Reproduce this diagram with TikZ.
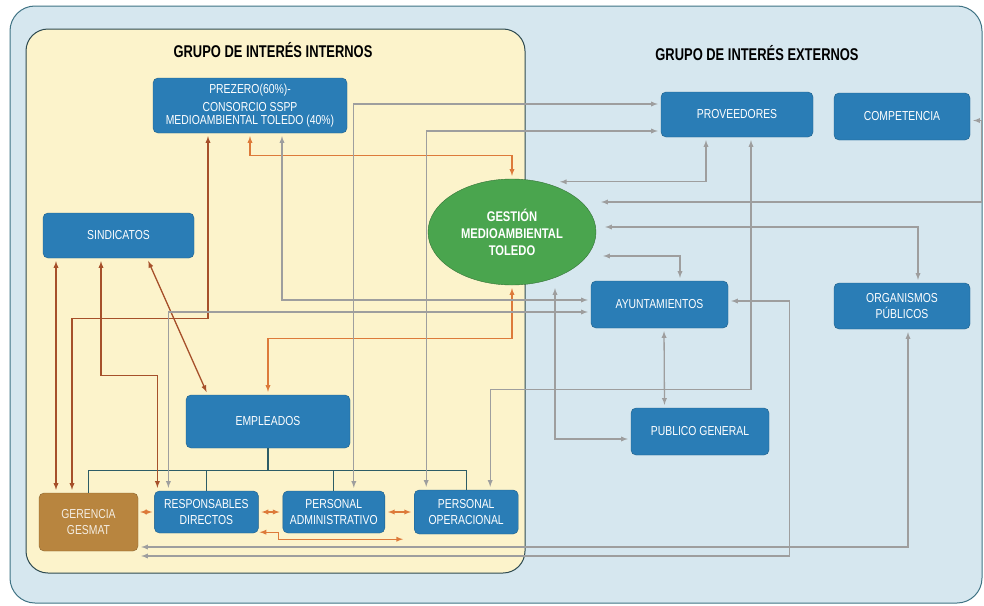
\documentclass[tikz,border=0pt]{standalone}
\usepackage{fontspec}
\usepackage{tikz}
\usetikzlibrary{positioning,calc,shapes.geometric}
\newfontfamily\condfont[FakeStretch=0.8]{Liberation Sans}
\newfontfamily\titlefont[FakeStretch=0.76]{Liberation Sans}
\definecolor{outerblue}{HTML}{D6E7EF}
\definecolor{outeredge}{HTML}{3F7384}
\definecolor{inneryellow}{HTML}{FCF3CB}
\definecolor{inneredge}{HTML}{2E4A50}
\definecolor{boxblue}{HTML}{2A7DB6}
\definecolor{boxedge}{HTML}{1D5E88}
\definecolor{ochre}{HTML}{B8853F}
\definecolor{gestgreen}{HTML}{4AA54E}
\definecolor{linegray}{HTML}{9E9E9E}
\definecolor{lineorange}{HTML}{DD7A3A}
\definecolor{linebrown}{HTML}{A6502A}
\definecolor{treeteal}{HTML}{2D5C66}

\begin{document}
\begin{tikzpicture}[x=1pt,y=-1pt]
\tikzstyle{box}=[rectangle, rounded corners=5pt, fill=boxblue, draw=boxedge, text=white, align=center, inner sep=2pt, font=\condfont\fontsize{13}{15.5}\selectfont]
\tikzstyle{title}=[font=\titlefont\bfseries\fontsize{17}{19}\selectfont, text=black]
\tikzstyle{gline}=[latex-latex, line width=1.3pt, draw=linegray, shorten >=3pt, shorten <=3pt]
\tikzstyle{oline}=[latex-latex, line width=1.3pt, draw=lineorange, shorten >=3pt, shorten <=3pt]
\tikzstyle{bline}=[latex-latex, line width=1.3pt, draw=linebrown, shorten >=3pt, shorten <=3pt]
\tikzstyle{tree}=[line width=1.3pt, draw=treeteal]

\useasboundingbox (0,0) rectangle (984,605);

%% Frames
  \draw[rounded corners=25pt, fill=outerblue, draw=outeredge, line width=1pt] (10,6) rectangle (982,603);
  \draw[rounded corners=22pt, fill=inneryellow, draw=inneredge, line width=1pt] (26,29) rectangle (525,573);
  \node[title] (t_int) at (273,50) {GRUPO DE INTERÉS INTERNOS};
  \node[title] (t_ext) at (757,53) {GRUPO DE INTERÉS EXTERNOS};

%% Internos
  \node[box, minimum width=194pt, minimum height=55pt] (prezero) at (250,105.5) {PREZERO(60\%)-\\[3pt]CONSORCIO SSPP\\[-3pt]MEDIOAMBIENTAL TOLEDO (40\%)};
  \node[box, minimum width=151pt, minimum height=45pt] (sind) at (118.5,235.5) {SINDICATOS};
  \node[ellipse, fill=gestgreen, draw=gestgreen!70!black, text=white, align=center, minimum width=168pt, minimum height=106pt, inner sep=0pt, font=\condfont\bfseries\fontsize{14}{17}\selectfont] (gestion) at (512,232) {GESTIÓN\\MEDIOAMBIENTAL\\TOLEDO};
  \node[box, minimum width=164pt, minimum height=53pt] (empl) at (268,421.5) {EMPLEADOS};

%% Fila inferior
  \node[box, fill=ochre, draw=ochre!75!black, text=white!85!ochre, minimum width=99pt, minimum height=58pt] (gerencia) at (88.5,522) {GERENCIA\\GESMAT};
  \node[box, minimum width=104pt, minimum height=42pt] (resp) [right=16pt of gerencia, yshift=10pt] {RESPONSABLES\\DIRECTOS};
  \node[box, minimum width=102pt, minimum height=42pt] (admin) [right=24pt of resp] {PERSONAL\\ADMINISTRATIVO};
  \node[box, minimum width=104pt, minimum height=44pt] (oper) [right=29pt of admin] {PERSONAL\\OPERACIONAL};

%% Externos
  \node[box, minimum width=152pt, minimum height=45pt] (prov) at (737,114.5) {PROVEEDORES};
  \node[box, minimum width=136pt, minimum height=47pt] (comp) at (902,116.5) {COMPETENCIA};
  \node[box, minimum width=137pt, minimum height=47pt] (ayunt) at (659.5,304.5) {AYUNTAMIENTOS};
  \node[box, minimum width=136pt, minimum height=46pt] (org) at (902,306) {ORGANISMOS\\PÚBLICOS};
  \node[box, minimum width=138pt, minimum height=47pt] (pub) at (700,431.5) {PUBLICO GENERAL};

%% Organigrama
  \path (empl.south) ++(0,22) coordinate (bus);
  \draw[tree] (empl.south) -- (bus);
  \draw[tree] (gerencia.north) |- (bus) -| (oper.north);
  \draw[tree] (resp.north) |- (bus) -| (admin.north);

%% Relaciones internas
  \draw[oline] (prezero.south) -- ++(0,22) -| (gestion.north);
  \draw[bline] ($(prezero.south)+(-42,0)$) -- ++(0,185) -| ($(gerencia.north)+(-16.5,0)$);
  \draw[bline] ($(sind.south)+(-62.5,0)$) -- ($(gerencia.north)+(-32.5,0)$);
  \draw[bline] ($(sind.south)+(-17.5,0)$) -- ++(0,117) -| ($(resp.north)+(-49,0)$);
  \draw[bline] ($(sind.south)+(28.5,0)$) -- ($(empl.north west)+(22,0)$);
  \draw[oline] (gestion.south) -- ++(0,53) -| (empl.north);
  \draw[oline, shorten >=2pt, shorten <=2pt] ($(gerencia.east)+(0,-10)$) -- (resp.west);
  \draw[oline] (resp.east) -- (admin.west);
  \draw[oline] (admin.east) -- (oper.west);
  \draw[oline, shorten <=1pt] ($(resp.south east)+(0,-1)$) -- ++(20,0) |- ($(oper.south west)+(-8,5)$);

%% Relaciones con externos
  \draw[gline] ($(prezero.south)+(32,0)$) |- ($(ayunt.west)+(0,-4.5)$);
  \draw[gline] ($(resp.north)+(-38,0)$) |- ($(ayunt.west)+(0,7.5)$);
  \draw[gline] ($(admin.north)+(20,0)$) |- ($(prov.west)+(0,-10.5)$);
  \draw[gline] ($(oper.north)+(-40,0)$) |- ($(prov.west)+(0,16.5)$);
  \draw[gline] ($(oper.north)+(24,0)$) -- ++(0,-100) -| ($(prov.south)+(14,0)$);
  \draw[gline] ($(prov.south)+(-31,0)$) |- ($(gestion.north)+(45,3)$);
  \draw[gline] ($(comp.east)+(0,4)$) -- ++(11,0) |- ($(gestion.east)+(2,-30)$);
  \draw[gline] ($(org.north)+(16,0)$) |- ($(gestion.east)+(6,-5)$);
  \draw[gline] ($(ayunt.north)+(20.5,0)$) |- ($(gestion.east)+(4,24)$);
  \draw[gline] ($(gestion.south)+(43,0)$) |- ($(pub.west)+(0,7.5)$);
  \draw[gline] ($(ayunt.south)+(4.5,0)$) -- ($(pub.north)+(-35.5,0)$);
  \draw[gline] ($(org.south)+(6,0)$) |- ($(gerencia.east)+(0,25)$);
  \draw[gline] ($(ayunt.east)+(0,-3.5)$) -- ++(61,0) |- ($(gerencia.east)+(0,34)$);
\end{tikzpicture}
\end{document}
